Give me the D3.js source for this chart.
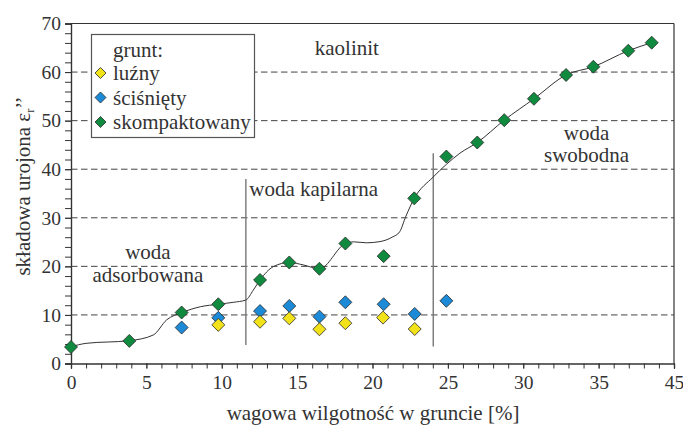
<!DOCTYPE html>
<html>
<head>
<meta charset="utf-8">
<script src="https://cdn.jsdelivr.net/npm/d3@7"></script>
<style>
  html, body { margin: 0; padding: 0; background: #fff; }
  svg { display: block; font-family: "Liberation Serif", "Times New Roman", serif; }
</style>
</head>
<body>
<svg id="chart" width="683" height="431"></svg>
<script>
// Moisture content [%] and imaginary permittivity for three soil states
const compactedX = [0, 3.87, 7.34, 9.77, 12.54, 14.48, 16.48, 18.2, 20.74, 22.77, 24.9, 26.95, 28.74, 30.71, 32.84, 34.65, 36.97, 38.52];
const compactedY = [3.4, 4.65, 10.5, 12.2, 17.2, 20.8, 19.5, 24.7, 22.1, 34.0, 42.6, 45.5, 50.1, 54.5, 59.4, 61.1, 64.4, 66.05];

const compressedX = [7.34, 9.77, 12.54, 14.48, 16.48, 18.2, 20.74, 22.8, 24.9];
const compressedY = [7.4, 9.4, 10.8, 11.85, 9.65, 12.6, 12.2, 10.2, 12.9];

const looseX = [9.77, 12.54, 14.48, 16.48, 18.2, 20.7, 22.8];
const looseY = [7.95, 8.6, 9.3, 7.05, 8.3, 9.45, 7.1];

// Trend curve for the compacted soil
const trendX = [0, 1.0, 3.87, 5.46, 6.35, 7.34, 8.6, 9.77, 10.77, 11.6, 12.09, 12.54, 13.42, 14.48, 15.4, 16.48, 18.2, 18.75, 19.6, 20.5, 21.3, 21.8, 22.2, 22.77, 24.03, 24.9, 25.8, 26.95, 28.74, 30.71, 32.84, 34.65, 36.97, 38.52];
const trendY = [3.45, 4.15, 4.7, 5.87, 9.0, 10.46, 11.7, 12.2, 12.6, 13.07, 15.1, 17.2, 19.94, 20.8, 20.3, 19.5, 24.7, 25.05, 24.85, 25.1, 26.0, 27.1, 30.2, 34.0, 38.4, 41.0, 43.3, 45.5, 50.1, 54.5, 59.4, 61.1, 64.4, 66.05];

// Axis ticks
const xTickValues = [0, 5, 10, 15, 20, 25, 30, 35, 40];
const xTickLabels = ["0", "5", "10", "15", "20", "25", "30", "35", "45"];
const yTickValues = [0, 10, 20, 30, 40, 50, 60, 70];
const gridValues = [10, 20, 30, 40, 50, 60];

// Zone boundaries (moisture, from / to permittivity)
const boundaryX = [11.6, 24.03];
const boundaryFrom = [3.8, 3.5];
const boundaryTo = [38.0, 43.3];

// Legend entries
const legendTitle = "grunt:";
const seriesNames = ["luźny", "ściśnięty", "skompaktowany"];
const seriesColors = ["#f2e21a", "#1c8ad6", "#0f8a3e"];

const svg = d3.select("#chart");
const W = 683, H = 431;
const m = { left: 71, right: 9, top: 23.5, bottom: 67.5 };

const x = d3.scaleLinear().domain([0, 40]).range([m.left, W - m.right]);
const y = d3.scaleLinear().domain([0, 70]).range([H - m.bottom, m.top]);

const textColor = "#333";
const axisColor = "#333";

// dashed horizontal grid
svg.append("g").selectAll("line").data(gridValues).join("line")
  .attr("x1", x(0)).attr("x2", x(40))
  .attr("y1", d => y(d)).attr("y2", d => y(d))
  .attr("stroke", "#444").attr("stroke-width", 1)
  .attr("stroke-dasharray", "6.5,3.5");

// frame top / right
svg.append("line").attr("x1", x(0)).attr("x2", x(40)).attr("y1", y(70)).attr("y2", y(70))
  .attr("stroke", axisColor).attr("stroke-width", 1.2);
svg.append("line").attr("x1", x(40)).attr("x2", x(40)).attr("y1", y(70)).attr("y2", y(0))
  .attr("stroke", axisColor).attr("stroke-width", 1.2);

// x axis with minor ticks
const xMinor = svg.append("g").attr("transform", `translate(0,${y(0)})`)
  .call(d3.axisBottom(x).tickValues(d3.range(0, 41, 1)).tickSize(5).tickFormat(""));
const xMajor = svg.append("g").attr("transform", `translate(0,${y(0)})`)
  .call(d3.axisBottom(x).tickValues(xTickValues).tickSize(5).tickPadding(7)
    .tickFormat((d, i) => xTickLabels[i]));
[xMinor, xMajor].forEach(g => {
  g.select(".domain").attr("stroke", axisColor).attr("stroke-width", 1.2);
  g.selectAll(".tick line").attr("stroke", axisColor).attr("stroke-width", 1);
});
xMajor.selectAll(".tick text").attr("fill", textColor)
  .style("font-family", "Liberation Serif").style("font-size", "19.5px");

// y axis with minor ticks
const yMinor = svg.append("g").attr("transform", `translate(${x(0)},0)`)
  .call(d3.axisLeft(y).tickValues(d3.range(0, 71, 2)).tickSize(6).tickFormat(""));
const yMajor = svg.append("g").attr("transform", `translate(${x(0)},0)`)
  .call(d3.axisLeft(y).tickValues(yTickValues).tickSize(6).tickPadding(4));
[yMinor, yMajor].forEach(g => {
  g.select(".domain").attr("stroke", axisColor).attr("stroke-width", 1.2);
  g.selectAll(".tick line").attr("stroke", axisColor).attr("stroke-width", 1);
});
yMajor.selectAll(".tick text").attr("fill", textColor)
  .style("font-family", "Liberation Serif").style("font-size", "19.5px");

// zone boundaries
svg.append("g").selectAll("line").data(boundaryX).join("line")
  .attr("x1", d => x(d)).attr("x2", d => x(d))
  .attr("y1", (d, i) => y(boundaryFrom[i])).attr("y2", (d, i) => y(boundaryTo[i]))
  .attr("stroke", "#777").attr("stroke-width", 1.4);

// trend curve
const trend = trendX.map((d, i) => [d, trendY[i]]);
svg.append("path").datum(trend)
  .attr("fill", "none").attr("stroke", "#333").attr("stroke-width", 1)
  .attr("d", d3.line().x(d => x(d[0])).y(d => y(d[1])).curve(d3.curveMonotoneX));

// zone labels
const label = (tx, ty, str, anchor) => svg.append("text")
  .attr("x", tx).attr("y", ty).attr("text-anchor", anchor || "middle")
  .attr("fill", textColor).style("font-size", "21px").text(str);
label(x(18.3), 55, "kaolinit");
label(x(16.1), 196, "woda kapilarna");
label(x(5.1), 259, "woda");
label(x(5.1), 282, "adsorbowana");
label(x(34.2), 140, "woda");
label(x(34.2), 162, "swobodna");

// diamond markers
const diamond = (g, xs, ys, color, r) => g.selectAll(null)
  .data(xs.map((d, i) => [d, ys[i]])).join("path")
  .attr("d", `M0,${-r}L${r},0L0,${r}L${-r},0Z`)
  .attr("transform", d => `translate(${x(d[0])},${y(d[1])})`)
  .attr("fill", color).attr("stroke", "#2a2a2a").attr("stroke-width", 0.8);

const marks = svg.append("g");
diamond(marks, compressedX, compressedY, seriesColors[1], 6.5);
diamond(marks, looseX, looseY, seriesColors[0], 6.5);
diamond(marks, compactedX, compactedY, seriesColors[2], 6.5);

// legend
const lg = svg.append("g");
lg.append("rect").attr("x", 91.5).attr("y", 34.5).attr("width", 163).attr("height", 103)
  .attr("fill", "#fff").attr("stroke", "#555").attr("stroke-width", 1.2);
lg.append("text").attr("x", 113).attr("y", 57).attr("fill", textColor)
  .style("font-size", "21px").text(legendTitle);
seriesNames.forEach((name, i) => {
  const cy = 73 + i * 24.5;
  lg.append("path").attr("d", "M0,-5.5L5.5,0L0,5.5L-5.5,0Z")
    .attr("transform", `translate(100.5,${cy})`)
    .attr("fill", seriesColors[i]).attr("stroke", "#2a2a2a").attr("stroke-width", 0.8);
  lg.append("text").attr("x", 113).attr("y", cy + 7).attr("fill", textColor)
    .style("font-size", "21px").text(name);
});

// axis titles
svg.append("text").attr("x", 373).attr("y", 420).attr("text-anchor", "middle")
  .attr("fill", textColor).style("font-size", "21px")
  .text("wagowa wilgotność w gruncie [%]");

const yt = svg.append("text").attr("transform", "translate(30,186) rotate(-90)")
  .attr("text-anchor", "middle").attr("fill", textColor).style("font-size", "21px");
yt.append("tspan").text("składowa urojona ε");
yt.append("tspan").attr("dy", 4).style("font-size", "12px").text("r");
yt.append("tspan").attr("dy", -4).text("’’");
</script>
</body>
</html>
